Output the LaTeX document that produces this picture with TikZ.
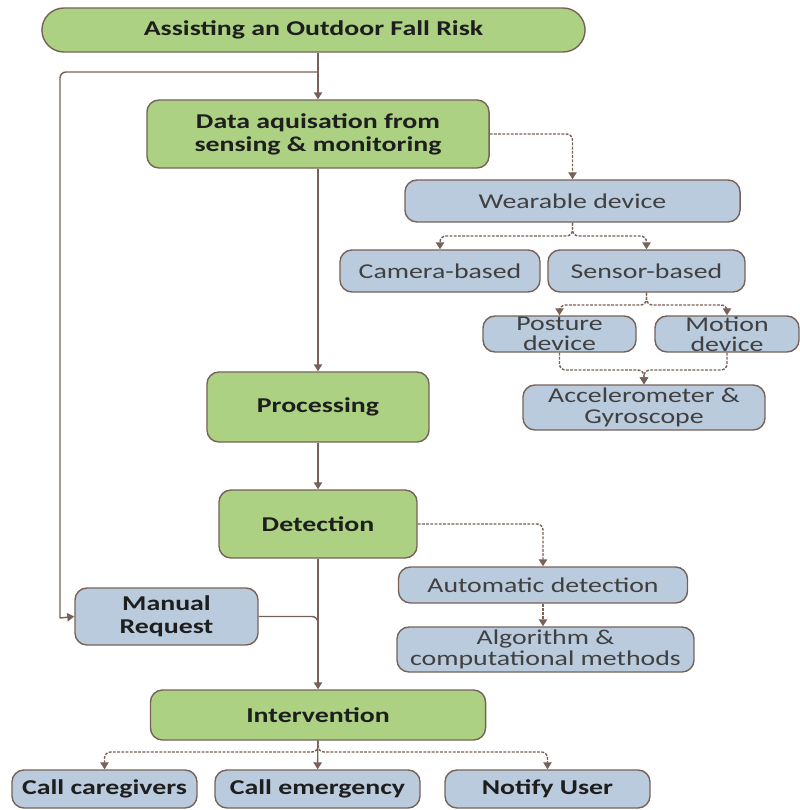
\documentclass[tikz,border=0pt]{standalone}
\usepackage{fontspec}
\setmainfont{Carlito}[FakeStretch=1.32]
\usetikzlibrary{arrows.meta}
\definecolor{boxgreen}{RGB}{172,209,131}
\definecolor{boxblue}{RGB}{186,203,221}
\definecolor{edgebrown}{RGB}{120,98,88}
\definecolor{txt}{RGB}{30,30,30}
\tikzset{
  greenbox/.style={draw=edgebrown, fill=boxgreen, line width=1pt, rounded corners=0.3cm,
    inner sep=0pt, align=center, text=txt, font=\fontsize{15}{16.5}\selectfont\bfseries},
  bluebox/.style={draw=edgebrown, fill=boxblue, line width=1pt, rounded corners=0.3cm,
    inner sep=0pt, align=center, text=txt!85, font=\fontsize{15}{14.5}\selectfont},
  boldtext/.style={text=txt, font=\fontsize{15}{16.5}\selectfont\bfseries},
  flow/.style={draw=edgebrown, line width=1pt, -{Triangle[length=5pt,width=6pt]}},
  dflow/.style={flow, dash pattern=on 2pt off 1pt, rounded corners=0.15cm},
  link/.style={draw=edgebrown, line width=1pt, rounded corners=0.15cm}
}
\begin{document}
\begin{tikzpicture}[x=0.025cm, y=-0.025cm]
    \useasboundingbox (0,0) rectangle (800,810);
    % main column
    \node (top) [greenbox, rounded corners=0.55cm, minimum width=13.575cm, minimum height=1.1cm] at (313.5,30) {Assisting an Outdoor Fall Risk};
    \node (data) [greenbox, minimum width=8.55cm, minimum height=1.7cm] at (318,134) {Data aquisation from\\sensing \& monitoring};
    \node (proc) [greenbox, minimum width=5.55cm, minimum height=1.75cm] at (318,407) {Processing};
    \node (det) [greenbox, minimum width=4.95cm, minimum height=1.7cm] at (318,524) {Detection};
    \node (int) [greenbox, minimum width=8.375cm, minimum height=1.25cm] at (318,715) {Intervention};
    % sensing branch
    \node (wear) [bluebox, minimum width=8.375cm, minimum height=1.05cm] at (572.5,201) {Wearable device};
    \node (cam) [bluebox, minimum width=5cm, minimum height=1.05cm] at (440,271) {Camera-based};
    \node (sens) [bluebox, minimum width=4.925cm, minimum height=1.05cm] at (646.5,271) {Sensor-based};
    \node (post) [bluebox, minimum width=3.825cm, minimum height=0.9cm] at (559.5,334) {Posture\\device};
    \node (mot) [bluebox, minimum width=3.6cm, minimum height=0.9cm] at (727,334) {Motion\\device};
    \node (acc) [bluebox, minimum width=6.05cm, minimum height=1.125cm] at (644,407.5) {Accelerometer \&\\Gyroscope};
    % detection branch
    \node (auto) [bluebox, minimum width=7.225cm, minimum height=0.9cm] at (543,585) {Automatic detection};
    \node (algo) [bluebox, minimum width=7.425cm, minimum height=1.125cm] at (545.5,649.5) {Algorithm \&\\computational methods};
    \node (man) [bluebox, boldtext, minimum width=4.575cm, minimum height=1.425cm] at (166.5,616.5) {Manual\\Request};
    % actions
    \node (care) [bluebox, boldtext, minimum width=4.625cm, minimum height=0.95cm] at (104.5,789) {Call caregivers};
    \node (emer) [bluebox, boldtext, minimum width=5.125cm, minimum height=0.95cm] at (317.5,789) {Call emergency};
    \node (noti) [bluebox, boldtext, minimum width=5.125cm, minimum height=0.95cm] at (547.5,789) {Notify User};
    % junctions
    \coordinate (split) at (318,72);
    \coordinate (loopc) at (60,618);
    \coordinate (wsplit) at (572.5,236);
    \coordinate (ssplit) at (646.5,305);
    \coordinate (asplit) at (644,370);
    \coordinate (merge) at (318,640);
    \coordinate (isplit) at (318,752);
    % connectors
    \draw[flow] (data.north |- top.south) -- (data.north);
    \draw[link] (split) -| (loopc);
    \draw[flow] (loopc) -- (man.west);
    \draw[flow] (data) -- (proc);
    \draw[flow] (proc) -- (det);
    \draw[flow] (det) -- (int);
    \draw[flow] (int) -- (emer);
    \draw[link] (man.east) -| (merge);
    \draw[dflow] (data.east) -| (wear.north);
    \draw[dflow] (wear.south) -- (wsplit) -| (cam.north);
    \draw[dflow] (wear.south) -- (wsplit) -| (sens.north);
    \draw[dflow] (sens.south) -- (ssplit) -| (post.north);
    \draw[dflow] (sens.south) -- (ssplit) -| (mot.north);
    \draw[dflow] (post.south) |- (asplit) -- (acc.north);
    \draw[dflow] (mot.south) |- (asplit) -- (acc.north);
    \draw[dflow] (det.east) -| (auto.north);
    \draw[dflow] (auto.south) -- (auto.south |- algo.north);
    \draw[dflow] (int.south) -- (isplit) -| (care.north);
    \draw[dflow] (int.south) -- (isplit) -| (noti.north);
  \end{tikzpicture}
\end{document}
